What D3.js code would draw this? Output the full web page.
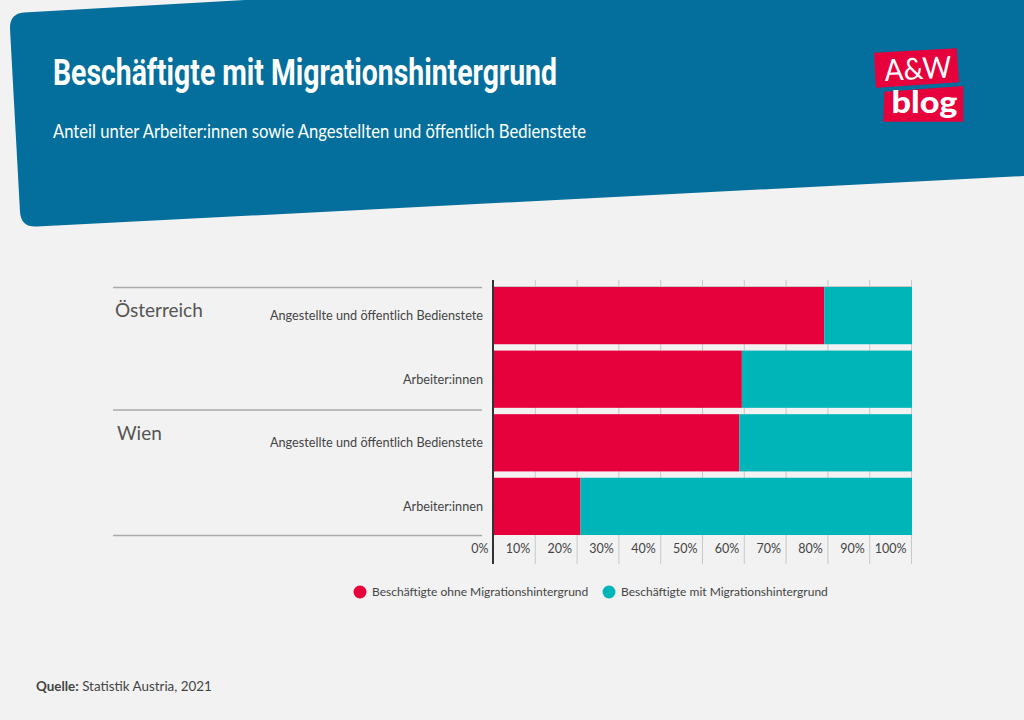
<!DOCTYPE html>
<html>
<head>
<meta charset="utf-8">
<script src="https://cdn.jsdelivr.net/npm/d3@7"></script>
<style>
  html, body { margin: 0; padding: 0; background: #f2f2f2; }
  svg { display: block; }
  text { font-family: Lato, "Open Sans", sans-serif; fill: #444; }
</style>
</head>
<body>
<script>
var svg_width = 1024;
var svg_height = 720;

var title = 'Beschäftigte mit Migrationshintergrund';
var subtitle = 'Anteil unter Arbeiter:innen sowie Angestellten und öffentlich Bedienstete';

var rows = ['oe_ang', 'oe_arb', 'w_ang', 'w_arb'];
var rowLabels = ['Angestellte und öffentlich Bedienstete', 'Arbeiter:innen', 'Angestellte und öffentlich Bedienstete', 'Arbeiter:innen'];
var groups = ['Österreich', 'Wien'];
var ohne = [79, 59.3, 58.7, 20.7];
var mit = [21, 40.7, 41.3, 79.3];
var ticks = [0, 10, 20, 30, 40, 50, 60, 70, 80, 90, 100];
var legendLabels = ['Beschäftigte ohne Migrationshintergrund', 'Beschäftigte mit Migrationshintergrund'];
var colors = ['#e6003c', '#00b5b8'];

var svg = d3.select('body').append('svg')
            .attr('width', svg_width)
            .attr('height', svg_height);

// header shape
svg.append('path')
   .attr('d', 'M24 12.5 L245 0 L1024 0 L1024 176 L37 226.5 Q21 227.5 20 212 L10 29 Q9.5 13.5 24 12.5 Z')
   .attr('fill', '#046f9c');

svg.append('text').text(title)
   .attr('x', 53).attr('y', 85)
   .attr('textLength', 504).attr('lengthAdjust', 'spacingAndGlyphs')
   .style('font-family', 'Roboto').style('font-weight', 700).style('font-size', '36px').style('fill', '#fff');

svg.append('text').text(subtitle)
   .attr('x', 53).attr('y', 138)
   .attr('textLength', 533).attr('lengthAdjust', 'spacingAndGlyphs')
   .style('font-family', 'Lato').style('font-size', '20px').style('fill', '#fff');

// logo
svg.append('path').attr('d', 'M874 52.7 L956.7 48.3 L959 82.3 L876 87.7 Z').attr('fill', '#e6003c');
svg.append('path').attr('d', 'M884.3 91.7 L963.3 86 L963.3 121.7 L883.3 121.7 Z').attr('fill', '#e6003c');
svg.append('text').text('A&W')
   .attr('transform', 'translate(885,81) rotate(-3)')
   .attr('textLength', 67).attr('lengthAdjust', 'spacingAndGlyphs')
   .style('font-family', 'Lato').style('font-size', '30px').style('fill', '#fff');
svg.append('text').text('blog')
   .attr('x', 891.5).attr('y', 113)
   .attr('textLength', 66).attr('lengthAdjust', 'spacingAndGlyphs')
   .style('font-family', 'Lato').style('font-weight', 900).style('font-size', '31px').style('fill', '#fff');

// chart
var xscale = d3.scaleLinear().domain([0, 100]).range([494, 912]);
var yscale = d3.scaleBand().domain(rows).range([287, 535]).paddingInner(0.1);

var xaxis = d3.axisBottom(xscale)
              .tickValues(ticks)
              .tickSize(29)
              .offset(-0.5)
              .tickFormat(function(d) { return d + '%'; });

var axisG = svg.append('g')
   .attr('transform', 'translate(0,535)')
   .call(xaxis);
axisG.select('.domain').remove();
axisG.selectAll('.tick line').attr('stroke', '#c8c8c8');
axisG.selectAll('.tick text')
   .attr('x', -5).attr('y', 14).attr('dy', '0.32em')
   .attr('text-anchor', 'end')
   .style('font-family', 'Lato').style('font-size', '12.5px');

// grid above and between the bars
svg.append('g').selectAll('line').data(ticks.slice(1)).join('line')
   .attr('x1', function(d) { return xscale(d) - 0.5; })
   .attr('x2', function(d) { return xscale(d) - 0.5; })
   .attr('y1', 280).attr('y2', 535)
   .attr('stroke', '#c8c8c8');

// thin line on top of the bars
svg.append('line')
   .attr('x1', xscale(0)).attr('x2', xscale(100))
   .attr('y1', 286.5).attr('y2', 286.5)
   .attr('stroke', '#c8c8c8');

var stack = d3.stack().keys(['ohne', 'mit'])(rows.map(function(r, i) {
  return { row: r, ohne: ohne[i], mit: mit[i] };
}));

svg.append('g').selectAll('g').data(stack).join('g')
   .attr('fill', function(d, i) { return colors[i]; })
   .selectAll('rect').data(function(d) { return d; }).join('rect')
   .attr('x', function(d) { return xscale(d[0]); })
   .attr('width', function(d) { return xscale(d[1]) - xscale(d[0]); })
   .attr('y', function(d) { return yscale(d.data.row); })
   .attr('height', yscale.bandwidth());

// zero line
svg.append('line')
   .attr('x1', xscale(0) - 1).attr('x2', xscale(0) - 1)
   .attr('y1', 280).attr('y2', 564)
   .attr('stroke', '#333').attr('stroke-width', 2);

// row labels
svg.append('g').selectAll('text').data(rows).join('text')
   .text(function(d, i) { return rowLabels[i]; })
   .attr('x', 483)
   .attr('y', function(d) { return yscale(d) + yscale.bandwidth() / 2; })
   .attr('dy', '0.35em')
   .attr('text-anchor', 'end')
   .style('font-size', '12.7px');

// group lines and names
svg.append('g').selectAll('line').data([287.5, 410, 535.5]).join('line')
   .attr('x1', 113).attr('x2', 482)
   .attr('y1', function(d) { return d; }).attr('y2', function(d) { return d; })
   .attr('stroke', '#aaa').attr('stroke-width', 1.5);

svg.append('g').selectAll('text').data(groups).join('text')
   .text(function(d) { return d; })
   .attr('x', function(d, i) { return i === 0 ? 115 : 117; })
   .attr('y', function(d, i) { return i === 0 ? 317 : 440; })
   .style('font-size', '19px')
   .style('fill', '#555');

// legend
var legendX = [360, 609];
var legend = svg.append('g').selectAll('g').data(legendLabels).join('g')
   .attr('transform', function(d, i) { return 'translate(' + legendX[i] + ',592)'; });
legend.append('circle').attr('r', 6.5).attr('fill', function(d, i) { return colors[i]; });
legend.append('text').text(function(d) { return d; })
   .attr('x', 12).attr('dy', '0.35em')
   .style('font-size', '12px');

// source
var source = svg.append('text').attr('x', 36).attr('y', 691).style('font-size', '13.4px');
source.append('tspan').text('Quelle:').style('font-weight', 700);
source.append('tspan').text(' Statistik Austria, 2021');
</script>
</body>
</html>
